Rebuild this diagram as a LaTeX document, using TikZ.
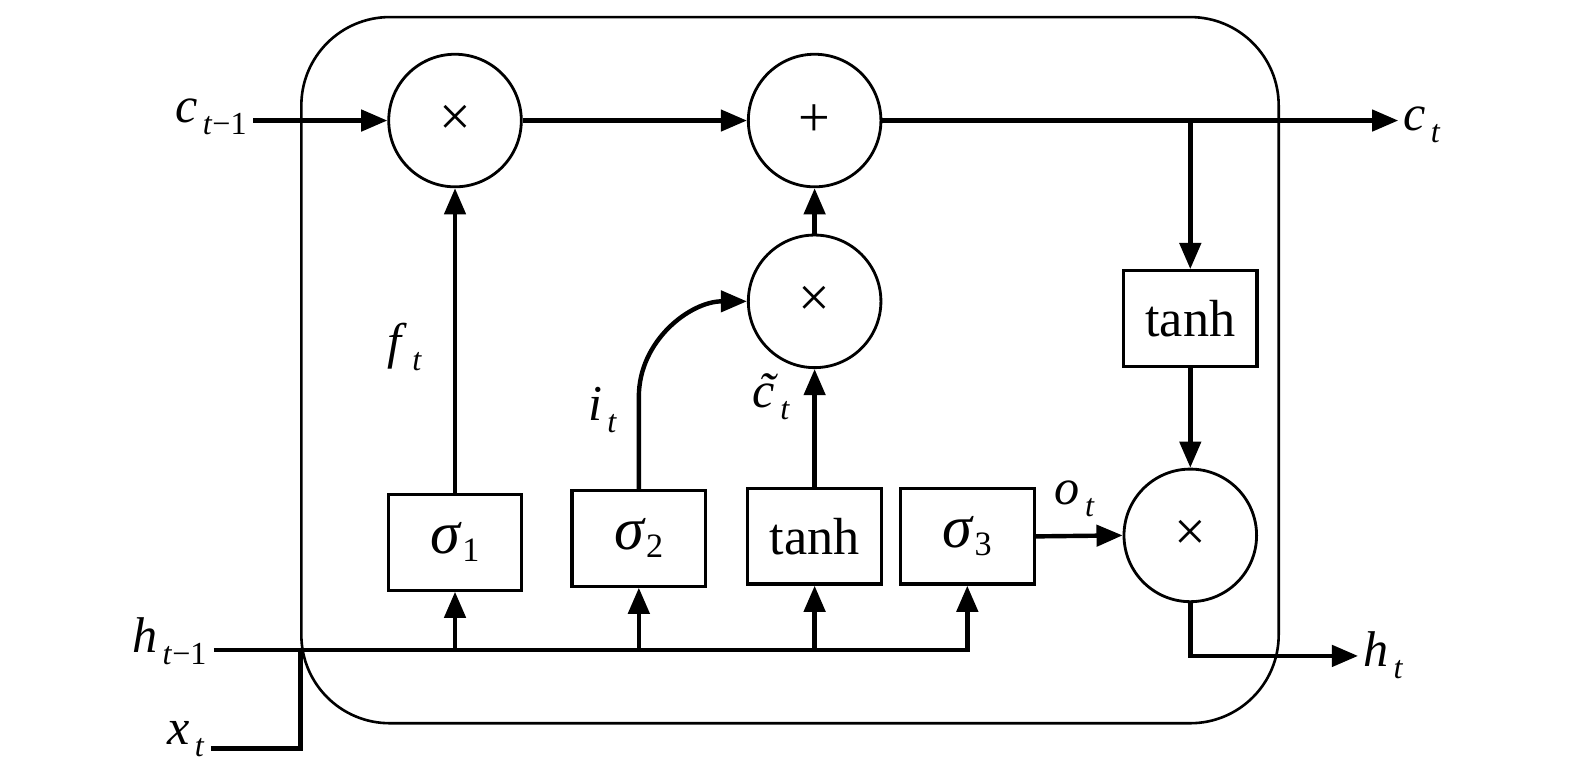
\documentclass[tikz,border=0pt]{standalone}
\usepackage{fontspec}
\setmainfont{Liberation Serif}
\usetikzlibrary{arrows.meta}
\newcommand{\lb}[2]{\textit{#1}\hspace{2.5pt}\raisebox{-6pt}{\fontsize{16}{16}\selectfont #2}}
\newcommand{\sg}[1]{{\fontsize{30}{30}\selectfont\textit{σ}}\raisebox{-4pt}{\fontsize{17}{17}\selectfont #1}}
\newcommand{\ctil}{\ooalign{\textit{c}\cr\hidewidth\kern0.12em\char"02DC\hidewidth\cr}}
\begin{document}
\begin{tikzpicture}[x=0.5pt,y=-0.5pt,
  arr/.style={line width=2.2pt,-{Triangle[length=13pt,width=10.5pt]}},
  ln/.style={line width=2.2pt},
  op/.style={circle,draw,line width=1.4pt,minimum size=66pt,inner sep=0pt,font=\fontsize{28}{28}\selectfont},
  gate/.style={rectangle,draw,line width=1.6pt,minimum width=66.5pt,minimum height=47.5pt,inner sep=0pt,font=\fontsize{26}{26}\selectfont},
  lab/.style={inner sep=2pt,font=\fontsize{25}{25}\selectfont}]
\useasboundingbox (0,0) rectangle (1568,777);
% cell
\draw[line width=1.3pt, rounded corners=44pt] (300,17) rectangle (1273,720);
% operators
\node[op] (A) at (453,120) {×};
\node[op] (B) at (811,120) {+};
\node[op] (C) at (811,300) {×};
\node[op] (D) at (1185,533) {×};
% gates
\node[gate] (s1) at (453,540) {\sg{1}};
\node[gate] (s2) at (636,536) {\sg{2}};
\node[gate] (th) at (811,534) {tanh};
\node[gate] (s3) at (963,534) {\sg{3}};
\node[gate] (t2) at (1185,317) {tanh};
% labels
\node[lab,anchor=east] (lc) at (250,116) {\lb{c}{\textit{t}−1}};
\node[lab,anchor=west] (lct) at (1393,124) {\lb{c}{\textit{t}}};
\node[lab,anchor=east] (lh) at (210,638) {\lb{h}{\textit{t}−1}};
\node[lab,anchor=west] (lht) at (1353,652) {\lb{h}{\textit{t}}};
\node[lab,anchor=east] (lx) at (208,736) {\lb{x}{\textit{t}}};
\node[lab] (lf) at (403,345) {\lb{f}{\textit{t}}};
\node[lab] (li) at (600,408) {\lb{i}{\textit{t}}};
\node[lab] (lct2) at (768,400) {\lb{\ctil}{\textit{t}}};
\node[lab] (lo) at (1070,497) {\lb{o}{\textit{t}}};
% coordinates
\coordinate (cin) at (252,120);
\coordinate (cout) at (1392,120);
\coordinate (hin) at (213,647);
\coordinate (hout) at (1352,653);
\coordinate (xin) at (210,745);
\coordinate (xj) at (299,647);
% cell state
\draw[arr] (cin) -- (A.west);
\draw[arr] (A.east) -- (B.west);
\draw[arr] (B.east) -- (cout);
\draw[arr] (t2.north |- B.east) -- (t2.north);
\draw[arr] (t2.south) -- (D.north);
\draw[arr] (C.north) -- (B.south);
\draw[arr] (th.north) -- (C.south);
\draw[arr] (s1.north) -- (A.south);
\draw[arr] (s2.north) -- (636,395) to[out=90,in=180] (C.west);
\draw[arr] (s3.east) -- (D.west);
\draw[arr] (D.south) |- (hout);
% inputs
\draw[arr] (hin) -| (s3.south);
\draw[arr] (s1.south |- hin) -- (s1.south);
\draw[arr] (s2.south |- hin) -- (s2.south);
\draw[arr] (th.south |- hin) -- (th.south);
\draw[ln] (xin) -| (xj);
\end{tikzpicture}
\end{document}
